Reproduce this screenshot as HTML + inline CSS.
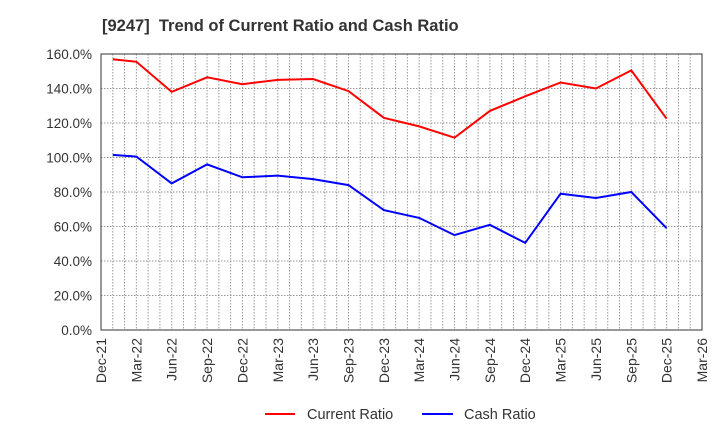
<!DOCTYPE html>
<html><head><meta charset="utf-8"><style>
body{margin:0;background:#fff;}
svg{display:block;font-family:"Liberation Sans",Arial,sans-serif;}
</style></head><body>
<svg id="s" width="720" height="440" xmlns="http://www.w3.org/2000/svg">
<text x="102" y="31" font-size="16.5" font-weight="bold" fill="#333" style="white-space:pre">[9247]  Trend of Current Ratio and Cash Ratio</text>
<g id="g"></g>
<rect x="101" y="54" width="601" height="276" fill="none" stroke="#333" stroke-width="1"/>
<line x1="265" y1="414" x2="295" y2="414" stroke="#f00" stroke-width="2"/>
<text x="307" y="419" font-size="14.5" fill="#333">Current Ratio</text>
<line x1="422" y1="414" x2="453" y2="414" stroke="#00f" stroke-width="2"/>
<text x="464" y="419" font-size="14.5" fill="#333">Cash Ratio</text>
</svg>
<script>
var g=document.getElementById('g'),h='';
var L=101,R=702,T=54,B=330,pm=(R-L)/51;
function Y(v){return B-v*(B-T)/160;}
for(var m=1;m<51;m++){var x=L+m*pm;h+='<line x1="'+x+'" y1="'+T+'" x2="'+x+'" y2="'+B+'" stroke="#999" stroke-width="1" stroke-dasharray="1.5,1.5"/>';}
for(var v=0;v<=160;v+=20){var y=Y(v);if(v>0&&v<160)h+='<line x1="'+L+'" y1="'+y+'" x2="'+R+'" y2="'+y+'" stroke="#999" stroke-width="1" stroke-dasharray="1.5,1.5"/>';
h+='<text x="92" y="'+(y+5)+'" font-size="13.5" fill="#333" text-anchor="end">'+v.toFixed(1)+'%</text>';}
var lab=['Dec-21','Mar-22','Jun-22','Sep-22','Dec-22','Mar-23','Jun-23','Sep-23','Dec-23','Mar-24','Jun-24','Sep-24','Dec-24','Mar-25','Jun-25','Sep-25','Dec-25','Mar-26'];
for(var i=0;i<lab.length;i++){var x=L+i*3*pm;h+='<text transform="translate('+(x+5)+',338) rotate(-90)" font-size="14" fill="#333" text-anchor="end">'+lab[i]+'</text>';}
var red=[157,155.5,138,146.5,142.5,145,145.5,138.5,123,118,111.5,127,135.5,143.5,140,150.5,122.5];
var blue=[101.5,100.5,85,96,88.5,89.5,87.5,84,69.5,65,55,61,50.5,79,76.5,80,59];
function pts(a){var p=[];for(var i=0;i<a.length;i++){var mm=i==0?1:3*i;p.push((L+mm*pm).toFixed(1)+','+Y(a[i]).toFixed(1));}return p.join(' ');}
h+='<polyline points="'+pts(red)+'" fill="none" stroke="#f00" stroke-width="2"/>';
h+='<polyline points="'+pts(blue)+'" fill="none" stroke="#00f" stroke-width="2"/>';
g.innerHTML=h;
</script>
</body></html>
